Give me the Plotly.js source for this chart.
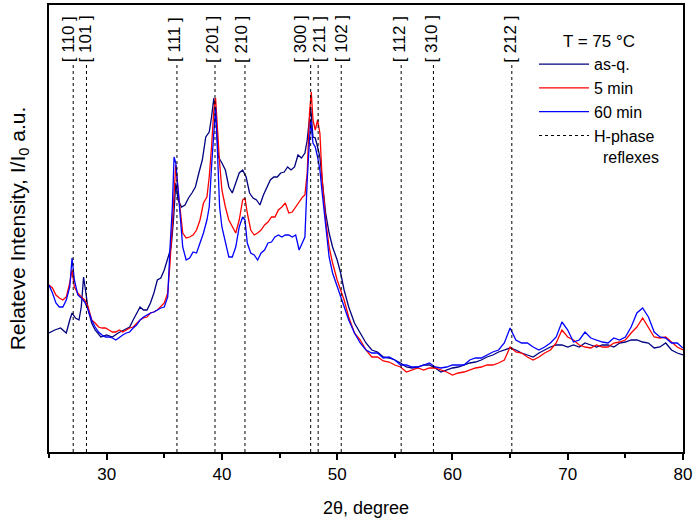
<!DOCTYPE html>
<html>
<head>
<meta charset="utf-8">
<script src="https://cdn.plot.ly/plotly-3.0.1.min.js"></script>
<style>html,body{margin:0;padding:0;background:#fff;}#chart{width:695px;height:520px;}</style>
</head>
<body>
<div id="chart"></div>
<script>
// 2theta (degree) sample positions
var xAsQ = [25.0,25.5,26.0,26.5,26.8,27.0,27.3,27.6,27.8,28.0,28.2,28.4,28.7,29.0,29.5,30.0,30.5,31.0,31.5,32.0,32.3,32.6,32.9,33.2,33.5,33.8,34.1,34.4,34.7,35.0,35.3,35.6,35.8,36.0,36.2,36.5,36.8,37.1,37.4,37.7,38.0,38.3,38.6,38.9,39.1,39.3,39.5,39.7,40.0,40.3,40.6,40.9,41.2,41.5,41.8,42.1,42.4,42.7,43.0,43.3,43.6,43.9,44.2,44.5,44.8,45.1,45.4,45.7,46.0,46.3,46.6,46.9,47.2,47.4,47.6,47.7,47.9,48.1,48.3,48.5,48.7,49.0,49.3,49.6,50.0,50.3,50.6,51.0,51.5,52.0,52.5,53.0,53.5,54.0,
  54.5,55.0,55.5,56.0,56.5,57.0,57.5,58.0,58.5,59.0,59.5,60.0,60.5,61.0,61.5,62.0,62.5,63.0,63.5,64.0,64.5,65.0,65.5,66.0,66.5,67.0,67.5,68.0,68.5,69.0,69.5,70.0,70.5,71.0,71.5,72.0,72.5,73.0,73.5,74.0,74.5,75.0,75.5,76.0,76.5,77.0,77.5,78.0,78.5,79.0,79.5,80.0];
var yAsQ = [119,122,124,119,132,139,134,132,145,175,159,142,129,122,115,117,115,119,122,125,132,139,145,142,142,149,159,172,174,182,194,205,232,269,252,245,247,254,259,265,279,292,315,320,335,354,332,295,289,282,265,259,269,279,282,275,259,254,252,247,257,265,272,275,275,279,280,285,282,285,297,294,299,312,332,345,315,314,305,295,272,239,219,205,192,179,162,145,129,119,109,102,100,95,
  94,92,89,85,84,85,87,87,84,80,82,84,85,87,89,90,92,95,97,100,102,104,102,99,97,95,99,102,105,107,107,105,107,105,109,107,105,107,107,105,109,110,112,112,110,109,104,105,109,102,99,97];

var x5min = [25.0,25.3,25.6,25.9,26.2,26.5,26.8,27.0,27.2,27.5,27.8,28.1,28.4,28.7,29.0,29.3,29.6,29.9,30.2,30.5,30.8,31.1,31.4,31.7,32.0,32.3,32.6,32.9,33.2,33.5,33.8,34.1,34.4,34.7,35.0,35.3,35.5,35.7,35.9,36.0,36.2,36.4,36.6,36.9,37.2,37.5,37.8,38.1,38.4,38.7,38.9,39.1,39.3,39.45,39.6,39.8,40.0,40.3,40.6,40.9,41.2,41.5,41.8,42.0,42.2,42.5,42.8,43.1,43.4,43.7,44.0,44.3,44.6,44.9,45.2,45.5,45.8,46.1,46.4,46.7,47.0,47.2,47.4,47.6,47.75,47.9,48.1,48.3,48.5,48.7,49.0,49.3,49.6,50.0,50.3,50.6,51.0,51.5,52.0,52.5,53.0,53.5,54.0,
  54.5,55.0,55.5,56.0,56.5,57.0,57.5,58.0,58.5,59.0,59.5,60.0,60.5,61.0,61.5,62.0,62.5,63.0,63.5,64.0,64.5,65.0,65.5,66.0,66.5,67.0,67.5,68.0,68.5,69.0,69.5,70.0,70.5,71.0,71.5,72.0,72.5,73.0,73.5,74.0,74.5,75.0,75.5,76.0,76.5,77.0,77.5,78.0,78.5,79.0,79.5,80.0];
var y5min = [167,164,157,154,152,155,169,182,165,159,155,152,145,132,129,125,124,124,122,120,120,122,120,122,124,125,129,132,134,135,139,140,142,145,149,159,189,229,269,287,262,239,219,214,215,217,222,232,249,255,275,305,342,354,322,289,262,245,232,225,219,232,252,254,239,222,217,219,222,227,230,235,235,242,245,249,239,240,245,250,255,257,279,339,360,332,322,332,319,272,232,205,189,172,162,152,135,119,112,102,95,95,91,
  90,87,85,80,82,84,82,84,84,82,80,77,79,80,82,84,85,87,87,89,92,105,100,99,95,92,95,99,102,109,122,115,112,107,105,104,107,105,105,109,110,112,119,125,134,125,115,114,115,110,105,102];

var x60min = [25.0,25.3,25.6,25.9,26.2,26.5,26.8,27.0,27.2,27.5,27.8,28.1,28.4,28.7,29.0,29.3,29.6,29.9,30.2,30.5,30.8,31.1,31.4,31.7,32.0,32.3,32.6,32.9,33.2,33.5,33.8,34.1,34.4,34.7,35.0,35.3,35.5,35.7,35.85,36.0,36.2,36.4,36.6,36.9,37.2,37.5,37.8,38.1,38.4,38.7,38.9,39.1,39.3,39.45,39.6,39.8,40.0,40.3,40.6,40.9,41.2,41.5,41.8,42.0,42.2,42.5,42.8,43.1,43.4,43.7,44.0,44.3,44.6,44.9,45.2,45.5,45.8,46.1,46.4,46.7,47.0,47.2,47.4,47.6,47.7,47.9,48.1,48.3,48.5,48.7,49.0,49.3,49.6,50.0,50.3,50.6,51.0,51.5,52.0,52.5,53.0,53.5,54.0,
  54.5,55.0,55.5,56.0,56.5,57.0,57.5,58.0,58.5,59.0,59.5,60.0,60.5,61.0,61.5,62.0,62.5,63.0,63.5,64.0,64.5,65.0,65.5,66.0,66.5,67.0,67.5,68.0,68.5,69.0,69.5,70.0,70.5,71.0,71.5,72.0,72.5,73.0,73.5,74.0,74.5,75.0,75.5,76.0,76.5,77.0,77.5,78.0,78.5,79.0,79.5,80.0];
var y60min = [167,159,149,145,145,152,165,194,172,157,154,150,142,132,125,120,117,115,115,114,112,115,117,119,120,124,127,132,135,137,139,140,142,144,145,155,205,245,295,289,262,232,205,192,194,200,199,209,219,232,245,285,322,345,305,245,225,209,195,195,205,225,235,232,209,199,197,192,199,202,209,210,215,217,215,217,217,215,217,202,209,215,272,322,332,309,305,295,282,259,225,195,179,165,155,145,132,119,109,102,99,99,94,
  95,92,87,87,85,85,87,89,85,84,85,87,87,87,92,94,94,97,100,102,109,124,112,109,109,105,102,105,109,115,130,122,110,112,120,114,112,110,109,114,112,115,125,139,144,135,120,115,114,109,109,104];

// H-phase reflex positions and labels
var reflexPos = [27.1, 28.25, 36.1, 39.4, 42.0, 47.7, 48.35, 50.35, 55.55, 58.35, 65.15];
var reflexLabels = ['[ 110 ]','[ 101 ]','[ 111 ]','[ 201 ]','[ 210 ]','[ 300 ]','[ 211 ]','[ 102 ]','[ 112 ]','[ 310 ]','[ 212 ]'];
var reflexShift = [-4, 0, -2, -2, -3, -10, 2, 1, -1, -1, -1];

var seriesNames = ['as-q.', '5 min', '60 min'];
var xTicks = [30, 40, 50, 60, 70, 80];

var FONT = 'Liberation Sans, Arial, sans-serif';

var traces = [
  {x: xAsQ, y: yAsQ, name: seriesNames[0], type: 'scatter', mode: 'lines', line: {color: '#000080', width: 1.3}},
  {x: x5min, y: y5min, name: seriesNames[1], type: 'scatter', mode: 'lines', line: {color: '#ff0000', width: 1.3}},
  {x: x60min, y: y60min, name: seriesNames[2], type: 'scatter', mode: 'lines', line: {color: '#0000ff', width: 1.3}},
  {x: [null], y: [null], name: 'H-phase<br>  reflexes', type: 'scatter', mode: 'lines', line: {color: '#000000', width: 1.2, dash: '3px,3px'}}
];

var shapes = reflexPos.map(function (p) {
  return {type: 'line', xref: 'x', yref: 'paper', x0: p, x1: p, y0: 0, y1: 0.866,
          line: {color: '#000000', width: 1, dash: '3px,3px'}};
});
var annotations = reflexPos.map(function (p, i) {
  return {x: p, xref: 'x', y: 0.924, yref: 'paper', text: reflexLabels[i], textangle: -90,
          showarrow: false, xanchor: 'center', yanchor: 'middle', xshift: reflexShift[i],
          font: {family: FONT, size: 17, color: '#000'}};
});

var layout = {
  width: 695, height: 520,
  margin: {l: 49, r: 12, t: 5, b: 68},
  paper_bgcolor: '#fff', plot_bgcolor: '#fff',
  showlegend: true,
  legend: {
    x: 0.765, y: 0.955, xanchor: 'left', yanchor: 'top',
    bgcolor: 'rgba(0,0,0,0)', borderwidth: 0,
    font: {family: FONT, size: 16, color: '#000'},
    title: {text: 'T = 75 °C', side: 'top center', font: {family: FONT, size: 17, color: '#000'}},
    tracegroupgap: 0, itemwidth: 50, valign: 'top'
  },
  xaxis: {
    range: [25, 80], tickvals: xTicks, ticktext: xTicks.map(String),
    ticks: 'outside', ticklen: 6, tickwidth: 2, tickcolor: '#000',
    minor: {dtick: 5, ticks: 'outside', ticklen: 4, tickwidth: 2, tickcolor: '#000', showgrid: false},
    showline: true, linewidth: 2, linecolor: '#000', mirror: true,
    showgrid: false, zeroline: false,
    tickfont: {family: FONT, size: 17, color: '#000'},
    title: {text: '2θ, degree', font: {family: FONT, size: 18, color: '#000'}, standoff: 18}
  },
  yaxis: {
    range: [0, 447], showticklabels: false, ticks: '',
    showline: true, linewidth: 2, linecolor: '#000', mirror: true,
    showgrid: false, zeroline: false,
    title: {text: 'Relateve Intensity, I/I<sub>0</sub> a.u.', font: {family: FONT, size: 21, color: '#000'}, standoff: 16}
  },
  shapes: shapes,
  annotations: annotations
};

Plotly.newPlot('chart', traces, layout, {displayModeBar: false, staticPlot: true});
</script>
</body>
</html>
